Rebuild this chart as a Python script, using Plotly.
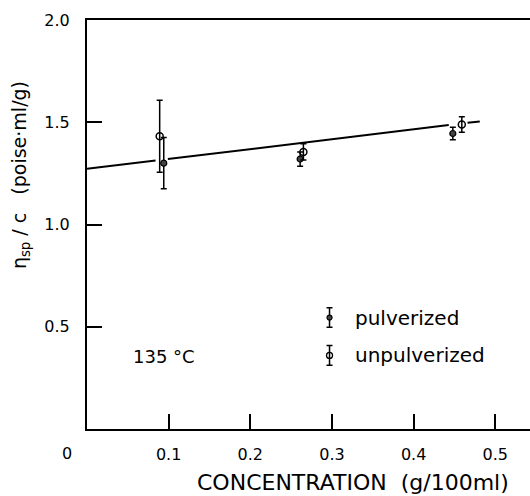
import plotly.graph_objects as go

# ---- data ----
pulv_c = [0.094, 0.261, 0.448]
pulv_y = [1.300, 1.320, 1.445]
pulv_err = [0.125, 0.035, 0.031]

unpulv_c = [0.089, 0.265, 0.459]
unpulv_y = [1.432, 1.355, 1.489]
unpulv_err = [0.176, 0.040, 0.038]

# fitted straight line (with small breaks where it passes the error bars)
fit_c = [0.0, 0.084, None, 0.099, 0.443, None, 0.466, 0.481]
fit_y = [1.273, 1.313, None, 1.320, 1.486, None, 1.497, 1.504]

x_ticks = [0.1, 0.2, 0.3, 0.4, 0.5]
x_ticklabels = ["0.1", "0.2", "0.3", "0.4", "0.5"]
y_ticks = [0.5, 1.0, 1.5, 2.0]
y_ticklabels = ["0.5", "1.0", "1.5", "2.0"]

legend_names = ["pulverized", "unpulverized"]
x_title = "CONCENTRATION  (g/100ml)"
y_title = "η<sub>sp</sub> / c   (poise·ml/g)"
FONT = "DejaVu Sans"

fig = go.Figure()

fig.add_trace(go.Scatter(
    x=fit_c, y=fit_y, mode="lines",
    line=dict(color="black", width=2), showlegend=False, hoverinfo="skip"))

fig.add_trace(go.Scatter(
    x=pulv_c, y=pulv_y, mode="markers",
    marker=dict(symbol="circle", size=6, color="#444444",
                line=dict(color="black", width=1.2)),
    error_y=dict(type="data", array=pulv_err, visible=True,
                 color="black", thickness=1.5, width=3),
    showlegend=False))

fig.add_trace(go.Scatter(
    x=unpulv_c, y=unpulv_y, mode="markers",
    marker=dict(symbol="circle-open", size=7, color="black",
                line=dict(color="black", width=1.5)),
    error_y=dict(type="data", array=unpulv_err, visible=True,
                 color="black", thickness=1.5, width=3),
    showlegend=False))

# hand-drawn style legend (glyph + text)
leg_x = 0.297
leg_y = [0.545, 0.360]
leg_err = 0.048
fig.add_trace(go.Scatter(
    x=[leg_x], y=[leg_y[0]], mode="markers",
    marker=dict(symbol="circle", size=5, color="#444444",
                line=dict(color="black", width=1.2)),
    error_y=dict(type="constant", value=leg_err, visible=True,
                 color="black", thickness=1.5, width=3),
    showlegend=False, hoverinfo="skip"))
fig.add_trace(go.Scatter(
    x=[leg_x], y=[leg_y[1]], mode="markers",
    marker=dict(symbol="circle-open", size=6, color="black",
                line=dict(color="black", width=1.3)),
    error_y=dict(type="constant", value=leg_err, visible=True,
                 color="black", thickness=1.5, width=3),
    showlegend=False, hoverinfo="skip"))

annotations = []
for name, yy in zip(legend_names, leg_y):
    annotations.append(dict(
        x=0.326, y=yy, xref="x", yref="y", text=name, showarrow=False,
        xanchor="left", yanchor="middle",
        font=dict(family=FONT, size=20, color="black")))

annotations.append(dict(
    x=0.054, y=0.355, xref="x", yref="y", text="135 °C", showarrow=False,
    xanchor="left", yanchor="middle",
    font=dict(family=FONT, size=18, color="black")))

# shared origin label at the lower-left corner
annotations.append(dict(
    x=-0.045, y=-0.059, xref="paper", yref="paper", text="0", showarrow=False,
    xanchor="center", yanchor="middle",
    font=dict(family=FONT, size=16, color="black")))

# axis titles
annotations.append(dict(
    x=0.600, y=-0.132, xref="paper", yref="paper", text=x_title,
    showarrow=False, xanchor="center", yanchor="middle",
    font=dict(family=FONT, size=22, color="black")))
annotations.append(dict(
    x=-0.151, y=0.621, xref="paper", yref="paper", text=y_title,
    showarrow=False, xanchor="center", yanchor="middle", textangle=-90,
    font=dict(family=FONT, size=19, color="black")))

fig.update_layout(
    width=530, height=496,
    margin=dict(l=87, r=0, t=20, b=67),
    paper_bgcolor="white", plot_bgcolor="white",
    font=dict(family=FONT, size=16, color="black"),
    annotations=annotations,
    xaxis=dict(
        range=[0, 0.5425], showgrid=False, zeroline=False,
        showline=True, linecolor="black", linewidth=2, mirror=True,
        ticks="inside", ticklen=15, tickwidth=1.5, tickcolor="black",
        tickvals=x_ticks, ticktext=x_ticklabels,
        tickfont=dict(family=FONT, size=16),
        ticklabelstandoff=10,
    ),
    yaxis=dict(
        range=[0, 2.0], showgrid=False, zeroline=False,
        showline=True, linecolor="black", linewidth=2,
        ticks="inside", ticklen=15, tickwidth=1.5, tickcolor="black",
        tickvals=y_ticks, ticktext=y_ticklabels,
        tickfont=dict(family=FONT, size=16),
        ticklabelstandoff=12,
    ),
)

fig.write_html("out.html")
